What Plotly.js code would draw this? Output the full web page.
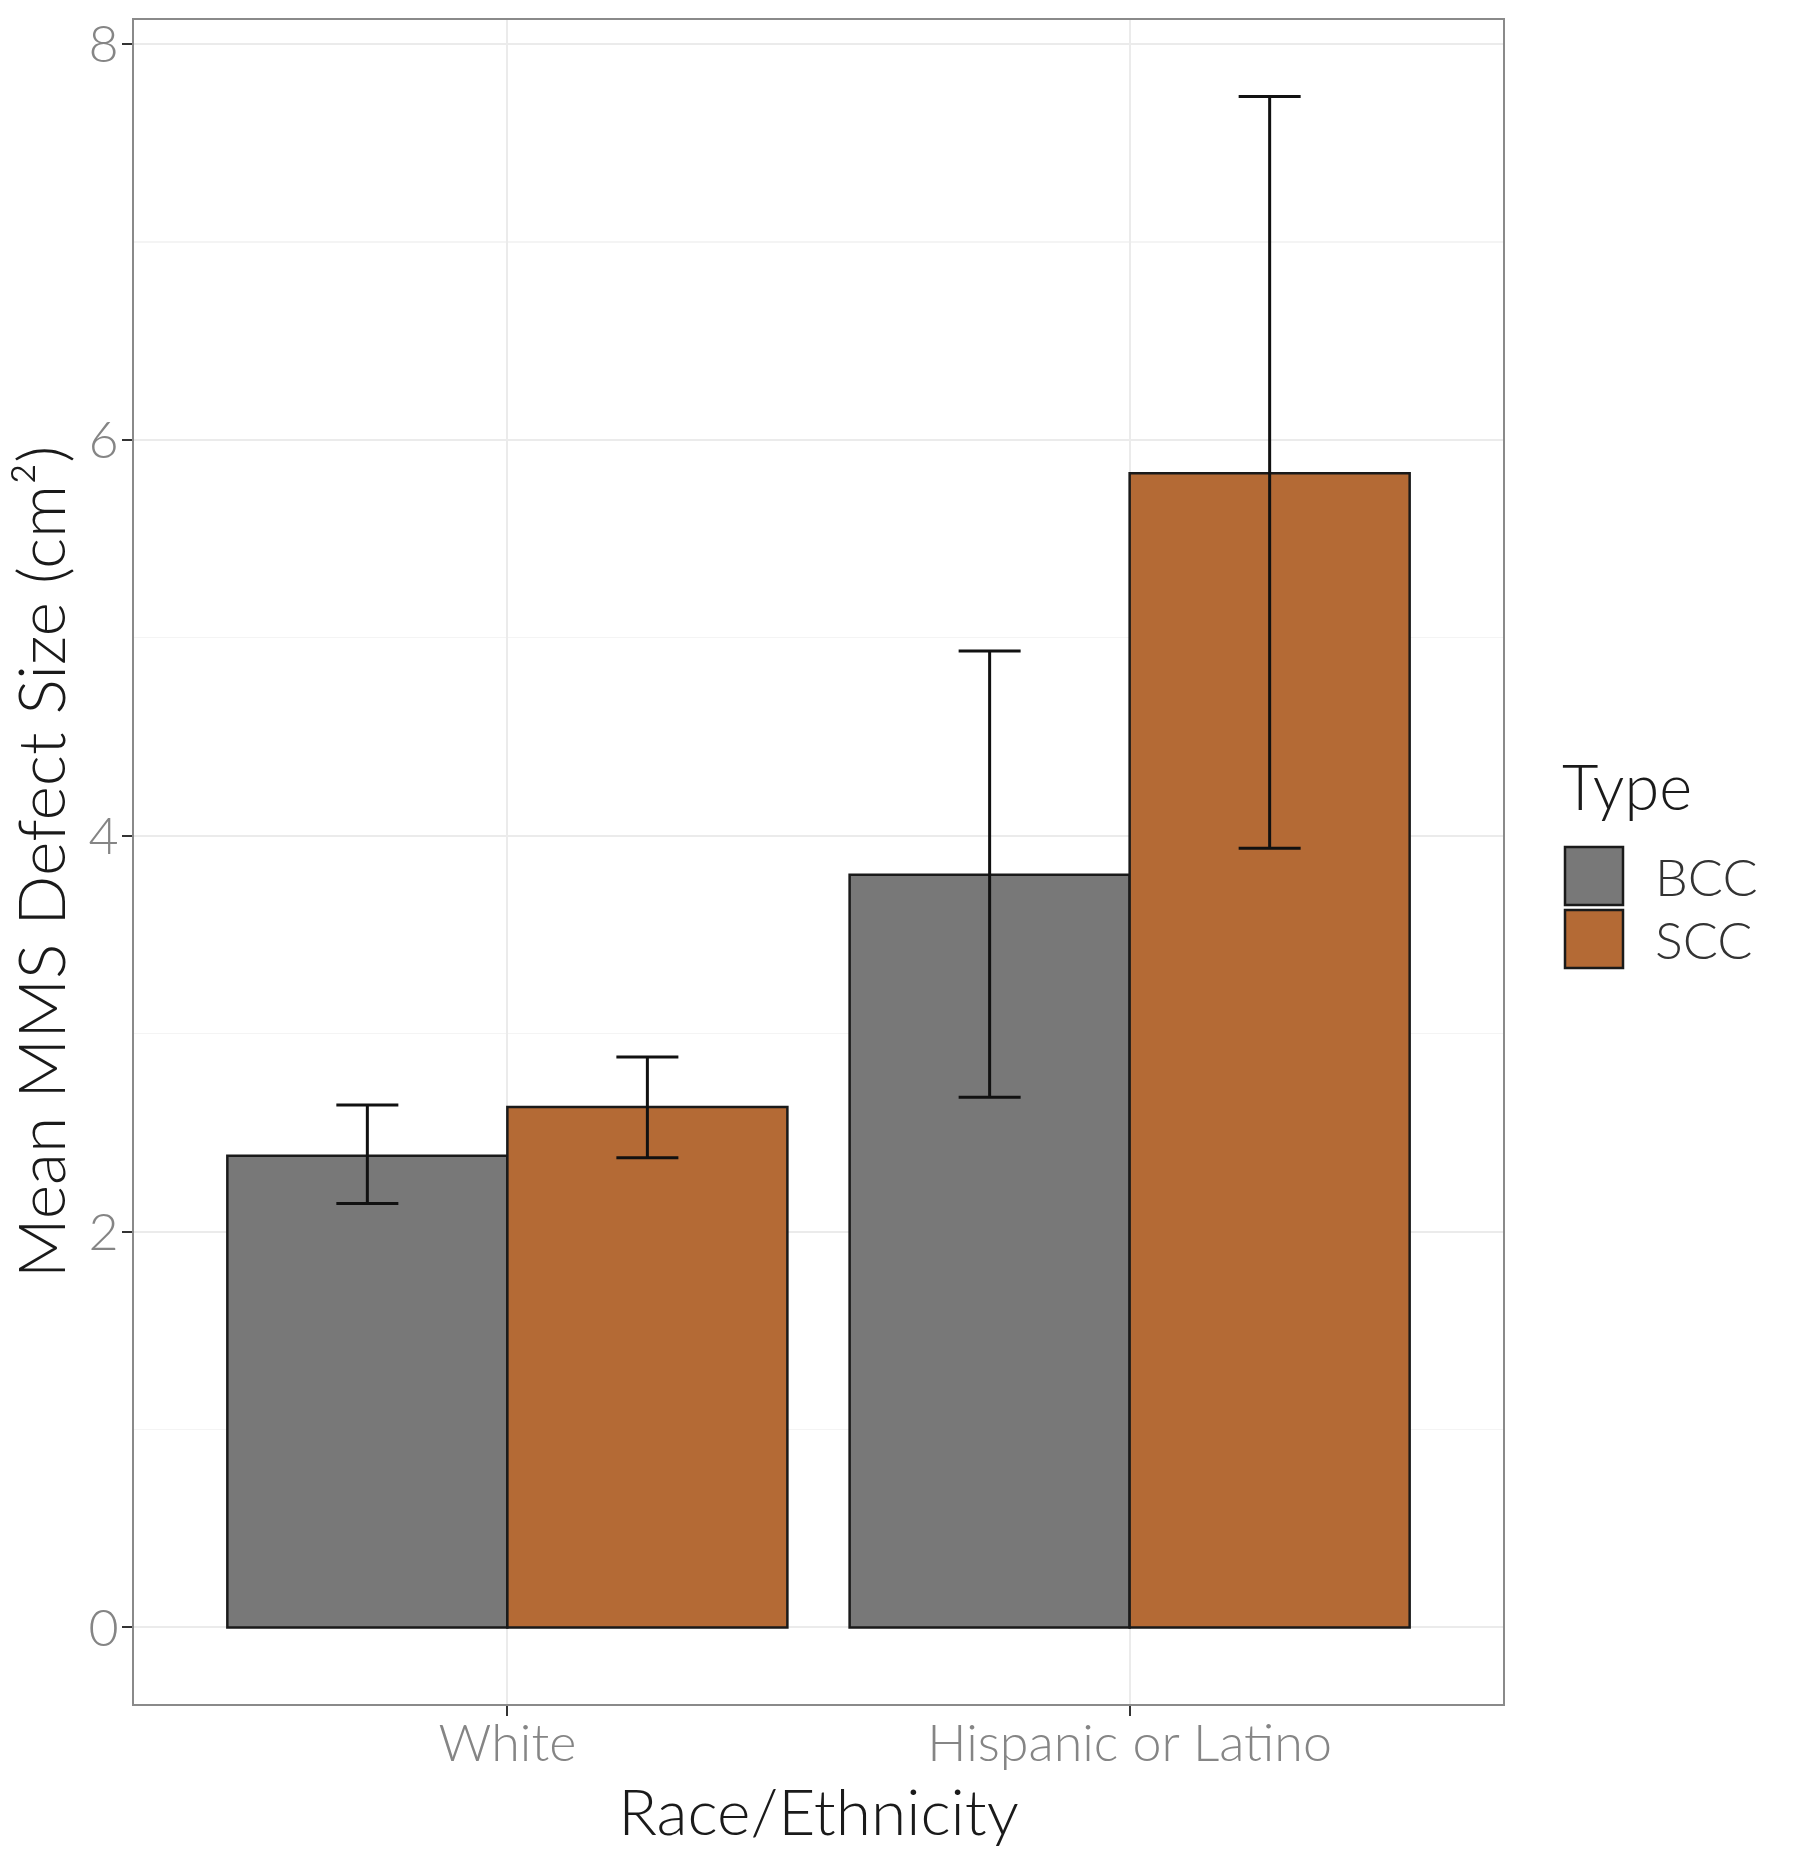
<!DOCTYPE html>
<html>
<head>
<meta charset="utf-8">
<script src="https://cdn.plot.ly/plotly-3.0.1.min.js"></script>
<style>
  html, body { margin: 0; padding: 0; background: #ffffff; }
  #chart { width: 1800px; height: 1854px; }
</style>
</head>
<body>
<div id="chart"></div>
<script>
// ---- Data ----
const categories = ["White", "Hispanic or Latino"];
const seriesNames = ["BCC", "SCC"];
const bccMean  = [2.383, 3.802];
const bccUpper = [2.639, 4.933];
const bccLower = [2.142, 2.679];
const sccMean  = [2.629, 5.831];
const sccUpper = [2.882, 7.734];
const sccLower = [2.373, 3.936];
const yTickVals = [0, 2, 4, 6, 8];
const yTickText = ["0", "2", "4", "6", "8"];
const legendTitle = "Type";
const xTitle = "Race/Ethnicity";
const yTitle = "Mean MMS Defect Size (cm²)";

// ---- Styles ----
const colors = ["#787878", "#B46A35"];
const FONT = "Lato, 'Open Sans', sans-serif";
const W = 300;

const means = [bccMean, sccMean];
const uppers = [bccUpper, sccUpper];
const lowers = [bccLower, sccLower];

const traces = seriesNames.map((name, i) => ({
  type: "bar",
  name: name,
  x: categories,
  y: means[i],
  marker: { color: colors[i], line: { color: "#1a1a1a", width: 2.5 } },
  error_y: {
    type: "data",
    symmetric: false,
    array: uppers[i].map((u, k) => u - means[i][k]),
    arrayminus: lowers[i].map((l, k) => means[i][k] - l),
    color: "#111111",
    thickness: 3,
    width: 31
  },
  showlegend: false,
  hoverinfo: "x+y+name"
}));

// Legend drawn in paper coordinates (ggplot-style large keys)
const L = 134, R = 1503, T = 20, B = 1704;
const pw = R - L, ph = B - T;
const px = v => (v - L) / pw;
const py = v => (B - v) / ph;

const shapes = [];
const annotations = [];
const keyTops = [847, 910];
seriesNames.forEach((name, i) => {
  shapes.push({
    type: "rect", xref: "paper", yref: "paper",
    x0: px(1565), x1: px(1623), y0: py(keyTops[i]), y1: py(keyTops[i] + 58),
    fillcolor: colors[i], line: { color: "#1a1a1a", width: 2.5 }
  });
  annotations.push({
    xref: "paper", yref: "paper", x: px(1653), y: py(keyTops[i] + 29),
    xanchor: "left", yanchor: "middle", showarrow: false,
    text: name, font: { family: FONT, size: 52, color: "#333333", weight: W }
  });
});
annotations.push({
  xref: "paper", yref: "paper", x: px(1560), y: py(786),
  xanchor: "left", yanchor: "middle", showarrow: false,
  text: legendTitle, font: { family: FONT, size: 63, color: "#1a1a1a", weight: W }
});

const layout = {
  width: 1800,
  height: 1854,
  margin: { l: L, r: 1800 - R, t: T, b: 1854 - B, pad: 0 },
  paper_bgcolor: "#ffffff",
  plot_bgcolor: "#ffffff",
  barmode: "group",
  bargap: 0.1,
  bargroupgap: 0,
  showlegend: false,
  font: { family: FONT, weight: W },
  xaxis: {
    type: "category",
    range: [-0.6, 1.6],
    showgrid: true,
    gridcolor: "#EBEBEB",
    gridwidth: 2,
    showline: true,
    mirror: true,
    linecolor: "#8a8a8a",
    linewidth: 2,
    ticks: "outside",
    ticklen: 10,
    tickwidth: 2,
    tickcolor: "#333333",
    ticklabelstandoff: -17,
    tickfont: { family: FONT, size: 52, color: "#858585", weight: W },
    zeroline: false,
    title: { text: xTitle, font: { family: FONT, size: 64, color: "#1a1a1a", weight: W }, standoff: 0 }
  },
  yaxis: {
    range: [-0.3867, 8.1207],
    tickvals: yTickVals,
    ticktext: yTickText,
    showgrid: true,
    gridcolor: "#EBEBEB",
    gridwidth: 2,
    minor: { dtick: 1, tick0: 0, showgrid: true, gridcolor: "#F4F4F4", gridwidth: 1.5, ticks: "" },
    showline: true,
    mirror: true,
    linecolor: "#8a8a8a",
    linewidth: 2,
    ticks: "outside",
    ticklen: 10,
    tickwidth: 2,
    tickcolor: "#333333",
    ticklabelstandoff: -7,
    tickfont: { family: FONT, size: 52, color: "#858585", weight: W },
    zeroline: false,
    title: { text: yTitle, font: { family: FONT, size: 66, color: "#1a1a1a", weight: W }, standoff: 14 }
  },
  shapes: shapes,
  annotations: annotations
};

Plotly.newPlot("chart", traces, layout, { staticPlot: true, displayModeBar: false });
</script>
</body>
</html>
